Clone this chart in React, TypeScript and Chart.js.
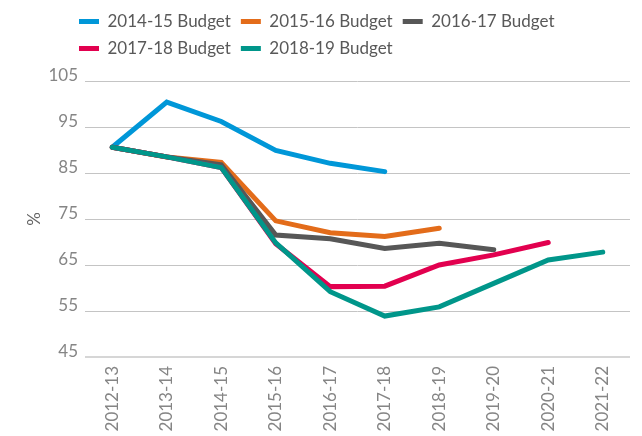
import React, { useEffect, useRef } from "react";
import { Chart, registerables } from "chart.js";

Chart.register(...registerables);

const categories = ["2012-13", "2013-14", "2014-15", "2015-16", "2016-17", "2017-18", "2018-19", "2019-20", "2020-21", "2021-22"];
const seriesNames = ["2014-15 Budget", "2015-16 Budget", "2016-17 Budget", "2017-18 Budget", "2018-19 Budget"];
const budget1415 = [90.6, 100.4, 96.2, 89.9, 87.1, 85.3, null, null, null, null];
const budget1516 = [90.6, 88.5, 87.3, 74.6, 72.0, 71.2, 73.0, null, null, null];
const budget1617 = [90.6, 88.5, 86.8, 71.5, 70.7, 68.6, 69.7, 68.3, null, null];
const budget1718 = [90.6, 88.5, 86.2, 69.6, 60.3, 60.4, 65.0, 67.2, 69.9, null];
const budget1819 = [90.6, 88.5, 86.2, 69.8, 59.2, 53.9, 55.9, 61.0, 66.1, 67.8];
const colors = ["#0097d8", "#e36c1a", "#575757", "#e2004f", "#00968a"];
const yTicks = [45, 55, 65, 75, 85, 95, 105];

const FONT = "Lato, 'Noto Sans', sans-serif";

export default function App() {
  const ref = useRef<HTMLCanvasElement | null>(null);
  useEffect(() => {
    document.body.style.margin = "0";
    const all = [budget1415, budget1516, budget1617, budget1718, budget1819];
    const datasets = all
      .map((d, i) => ({
        label: seriesNames[i],
        data: d,
        borderColor: colors[i],
        backgroundColor: colors[i],
        borderWidth: 5,
        borderCapStyle: "round" as const,
        borderJoinStyle: "miter" as const,
        pointRadius: 0,
        pointHoverRadius: 0,
        pointStyle: "line" as const,
        fill: false,
        tension: 0,
        spanGaps: false,
      }))
      .reverse();

    const legendShift = {
      id: "legendShift",
      beforeLayout(chart: any) {
        const lg = chart.legend;
        if (lg && !lg.__patched) {
          const orig = lg.fit;
          lg.fit = function () {
            orig.call(this);
            this.height = 78;
          };
          lg.__patched = true;
        }
      },
      afterLayout(chart: any) {
        const lg = chart.legend;
        if (lg) {
          lg.left += 49;
          lg.right += 49;
        }
      },
    };

    const chart = new Chart(ref.current as HTMLCanvasElement, {
      type: "line",
      data: { labels: categories, datasets },
      options: {
        animation: false,
        responsive: true,
        maintainAspectRatio: false,
        layout: { padding: { top: 3, left: 20, right: 12, bottom: 0 } },
        plugins: {
          tooltip: { enabled: false },
          legend: {
            position: "top",
            align: "start",
            reverse: true,
            labels: {
              usePointStyle: true,
              pointStyle: "line",
              pointStyleWidth: 20,
              padding: 10,
              color: "#595959",
              font: { family: FONT, size: 17 },
            },
          },
        },
        scales: {
          x: {
            offset: true,
            afterFit: (scale: any) => {
              scale.height = 79;
            },
            grid: { display: false, drawTicks: false },
            border: { display: false },
            ticks: {
              color: "#858585",
              font: { family: FONT, size: 17 },
              minRotation: 90,
              maxRotation: 90,
              padding: 9,
              autoSkip: false,
            },
          },
          y: {
            min: 45,
            max: 105,
            afterFit: (scale: any) => {
              scale.width = 65;
            },
            afterBuildTicks: (axis: any) => {
              axis.ticks = yTicks.map((v) => ({ value: v }));
            },
            grid: {
              drawTicks: false,
              color: (ctx: any) => (ctx.tick && ctx.tick.value === 45 ? "#d6d6d6" : "#c4c4c4"),
              lineWidth: (ctx: any) => (ctx.tick && ctx.tick.value === 45 ? 2 : 1),
            },
            border: { display: false },
            ticks: {
              color: "#858585",
              font: { family: FONT, size: 17 },
              padding: 7,
              labelOffset: -5,
            },
            title: {
              display: true,
              text: "%",
              color: "#666666",
              font: { family: FONT, size: 17 },
            },
          },
        },
      },
      plugins: [legendShift],
    });
    return () => chart.destroy();
  }, []);
  return (
    <div style={{ position: "relative", width: "642px", height: "436px" }}>
      <canvas ref={ref} />
    </div>
  );
}
